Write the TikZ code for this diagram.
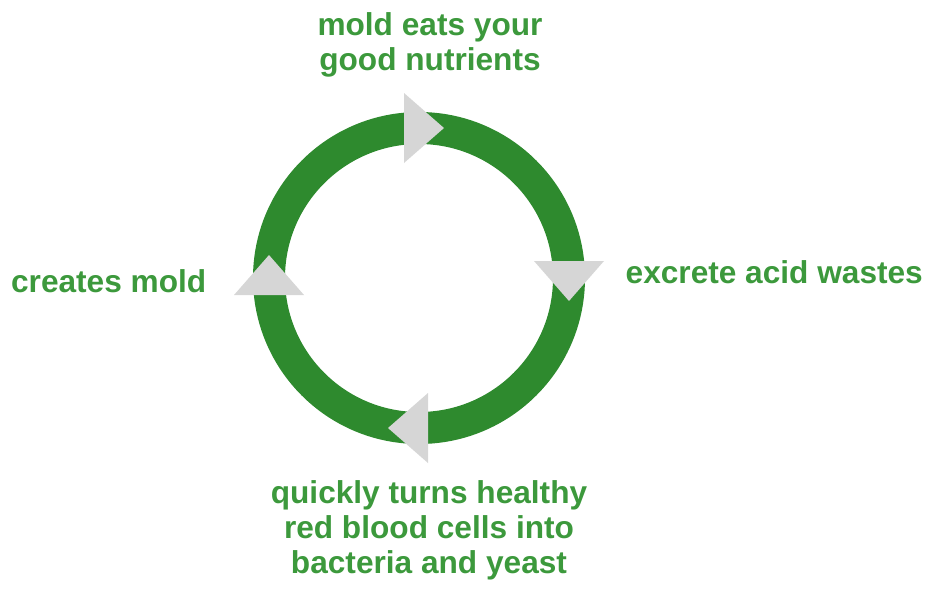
\documentclass[tikz,border=0pt]{standalone}
\usepackage{fontspec}
\setmainfont{Liberation Sans}
\definecolor{ringgreen}{HTML}{2E8A2E}
\definecolor{labelgreen}{HTML}{3C993C}
\definecolor{headgray}{HTML}{D6D6D6}
\usetikzlibrary{calc, positioning}

\begin{document}
\begin{tikzpicture}[
   cyclelabel/.style={font=\fontsize{9}{10}\selectfont\bfseries, text=labelgreen, align=center, inner sep=0pt},
   headfill/.style={fill=headgray, draw=none}
]
   \useasboundingbox (0,0) rectangle (9.26,5.88);
   \coordinate (c) at (4.19,3.10);
   % green ring
   \draw[ringgreen, line width=0.32cm] (c) circle (1.50);
   % gray heads, clockwise (angle/extra push along the ring)
   \foreach \a/\s in {90/0.02,0/0,-90/0.08,180/0} {
      \begin{scope}[shift={(c)}, rotate=\a]
         \fill[headfill] (1.5,-0.23-\s) -- (1.85,0.17-\s) -- (1.15,0.17-\s) -- cycle;
      \end{scope}
   }
   % labels
   \node[cyclelabel] (nutrients) at (4.30,5.43) {mold eats your\\good nutrients};
   \node[cyclelabel, anchor=west] (wastes) at (6.25,3.16) {excrete acid wastes};
   \node[cyclelabel, anchor=east] (mold) at (2.07,3.07) {creates mold};
   \node[cyclelabel] (bacteria) at (4.29,0.58) {quickly turns healthy\\red blood cells into\\bacteria and yeast};
\end{tikzpicture}
\end{document}
